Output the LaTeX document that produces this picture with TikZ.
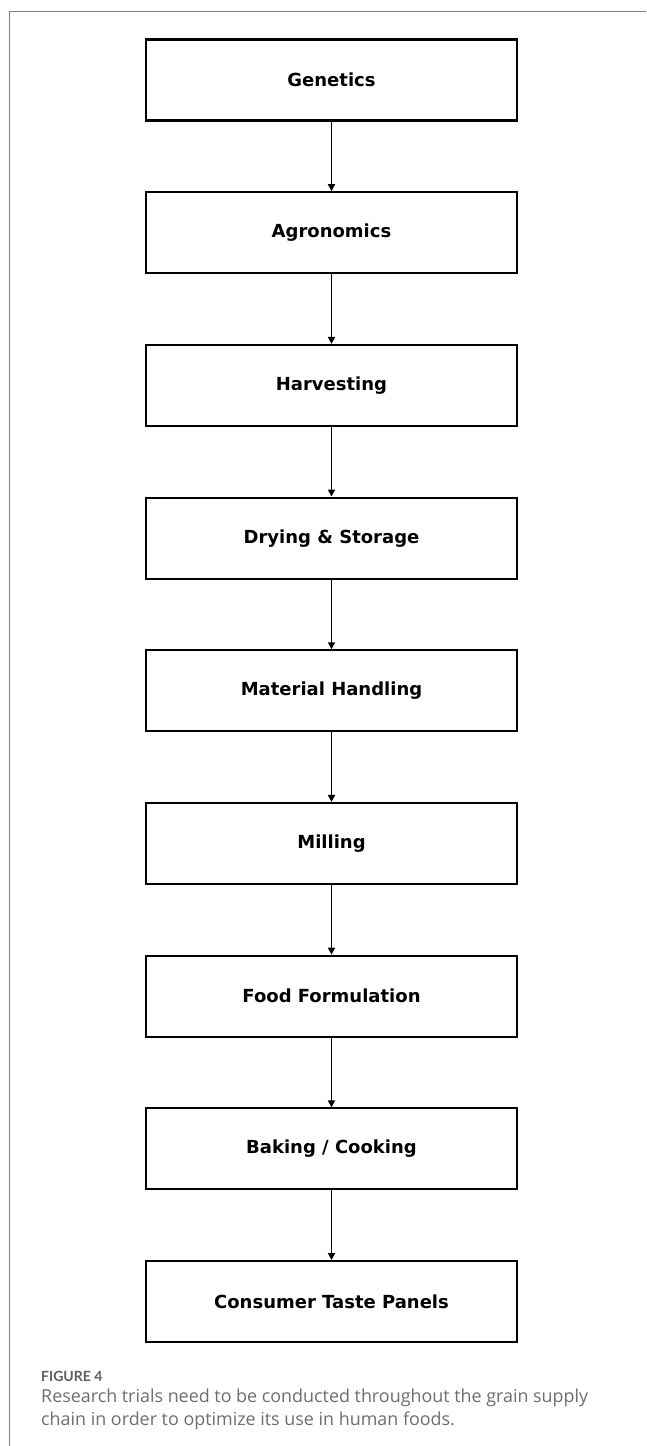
\documentclass[tikz,border=0pt]{standalone}
\usepackage{fontspec}
\usetikzlibrary{arrows.meta}
\newfontfamily\boxfont{DejaVu Sans}
\newfontfamily\capfont{Open Sans}
\newfontfamily\figfont{Lato}
\definecolor{framegray}{HTML}{7D7F88}
\definecolor{capgray}{HTML}{6B6E76}
\definecolor{figgray}{HTML}{5A5E6A}
\begin{document}
\begin{tikzpicture}[x=1pt,y=-1pt,
  stepbox/.style={draw=black, line width=2.1pt, fill=white, minimum width=371pt, minimum height=81pt,
    inner sep=0pt, font=\boxfont\bfseries\fontsize{18}{21}\selectfont},
  flow/.style={line width=1.7pt, -{Triangle[length=7pt,width=7pt]}},
  captext/.style={anchor=base west, inner sep=0pt, font=\capfont\fontsize{17.9}{20}\selectfont, text=capgray}]
\useasboundingbox (0,0) rectangle (646,1446);
\draw[framegray, line width=1.2pt] (646,11.7) -- (9.5,11.7) -- (9.5,1446);
\node[stepbox] (n0) at (331.5,80) {Genetics};
\node[stepbox] (n1) at (331.5,232.7) {Agronomics};
\node[stepbox] (n2) at (331.5,385.4) {Harvesting};
\node[stepbox] (n3) at (331.5,538.1) {Drying \& Storage};
\node[stepbox] (n4) at (331.5,690.8) {Material Handling};
\node[stepbox] (n5) at (331.5,843.5) {Milling};
\node[stepbox] (n6) at (331.5,996.2) {Food Formulation};
\node[stepbox] (n7) at (331.5,1148.9) {Baking / Cooking};
\node[stepbox] (n8) at (331.5,1301.6) {Consumer Taste Panels};
\foreach \a/\b in {n0/n1,n1/n2,n2/n3,n3/n4,n4/n5,n5/n6,n6/n7,n7/n8}
  \draw[flow] (\a.south) -- (\b.north);
\node[anchor=base west, inner sep=0pt, font=\figfont\bfseries\fontsize{14}{16}\selectfont, text=figgray] (fig) at (41,1381) {FIGURE 4};
\node[captext] (cap1) at (41,1402) {Research trials need to be conducted throughout the grain supply};
\node[captext] (cap2) at (41,1425) {chain in order to optimize its use in human foods.};
\end{tikzpicture}
\end{document}
